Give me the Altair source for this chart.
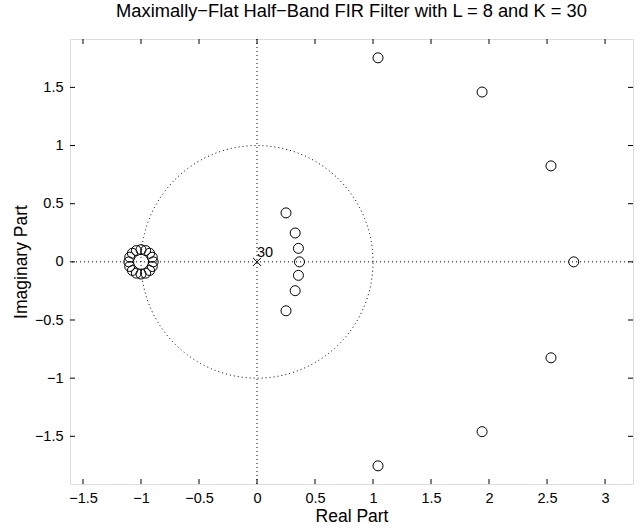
import altair as alt
import pandas as pd
import numpy as np

# ---- data ----
# 16 zeros clustered around z = -1 (numerical spread of the multiple zero)
cluster_re = [-0.895, -0.903, -0.926, -0.960, -1.000, -1.040, -1.074, -1.097,
              -1.105, -1.097, -1.074, -1.040, -1.000, -0.960, -0.926, -0.903]
cluster_im = [0.000, 0.040, 0.074, 0.097, 0.105, 0.097, 0.074, 0.040,
              0.000, -0.040, -0.074, -0.097, -0.105, -0.097, -0.074, -0.040]
# inner zeros (inside unit circle)
inner_re = [0.250, 0.329, 0.357, 0.366, 0.357, 0.329, 0.250]
inner_im = [0.421, 0.248, 0.116, 0.000, -0.116, -0.248, -0.421]
# outer zeros (reciprocals)
outer_re = [1.043, 1.940, 2.534, 2.730, 2.534, 1.940, 1.043]
outer_im = [1.754, 1.460, 0.825, 0.000, -0.825, -1.460, -1.754]
# pole
pole_re = [0.0]
pole_im = [0.0]
pole_label = ["30"]

x_ticks = [-1.5, -1, -0.5, 0, 0.5, 1, 1.5, 2, 2.5, 3]
y_ticks = [-1.5, -1, -0.5, 0, 0.5, 1, 1.5]

X_DOM = [-1.612, 3.241]
Y_DOM = [-1.910, 1.916]
W, H = 563, 445

zeros = pd.DataFrame({
    "re": cluster_re + inner_re + outer_re,
    "im": cluster_im + inner_im + outer_im,
})
poles = pd.DataFrame({"re": pole_re, "im": pole_im, "lab": pole_label})

t = np.linspace(0, 2 * np.pi, 361)
circle = pd.DataFrame({"re": np.cos(t), "im": np.sin(t), "i": np.arange(361)})

xs = alt.Scale(domain=X_DOM, nice=False, zero=False)
ys = alt.Scale(domain=Y_DOM, nice=False, zero=False)

minus = "replace(datum.label, '-', '\u2212')"
x_axis = alt.Axis(values=x_ticks, format=".1~f", title="Real Part", grid=False,
                  domain=False, tickSize=0, labelPadding=7, labelExpr=minus,
                  titlePadding=2.5, labelFontSize=14.5, titleFontSize=17.5,
                  labelColor="black", titleColor="black", titleFontWeight="normal")
y_axis = alt.Axis(values=y_ticks, format=".1~f", title="Imaginary Part", grid=False,
                  domain=False, tickSize=0, labelPadding=7, labelExpr=minus,
                  titlePadding=4, labelFontSize=14.5, titleFontSize=17.5,
                  labelColor="black", titleColor="black", titleFontWeight="normal")

X = alt.X("re:Q", scale=xs, axis=x_axis)
Y = alt.Y("im:Q", scale=ys, axis=y_axis)

unit = alt.Chart(circle).mark_line(color="black", strokeWidth=1, strokeDash=[1, 3]).encode(
    x=X, y=Y, order="i:Q")

vline = alt.Chart(pd.DataFrame({"v": [0]})).mark_rule(
    color="black", strokeWidth=1, strokeDash=[1, 3]).encode(x=alt.X("v:Q", scale=xs))
hline = alt.Chart(pd.DataFrame({"v": [0]})).mark_rule(
    color="black", strokeWidth=1, strokeDash=[1, 3]).encode(y=alt.Y("v:Q", scale=ys))

zero_pts = alt.Chart(zeros).mark_point(
    shape="circle", filled=False, color="black", size=100, strokeWidth=1, opacity=1
).encode(x=alt.X("re:Q", scale=xs), y=alt.Y("im:Q", scale=ys))

pole_pts = alt.Chart(poles).mark_point(
    shape="M-1,-1L1,1M-1,1L1,-1", filled=False, color="black", size=64,
    strokeWidth=1, opacity=1
).encode(x=alt.X("re:Q", scale=xs), y=alt.Y("im:Q", scale=ys))

pole_txt = alt.Chart(poles).mark_text(
    align="left", baseline="middle", dx=0, dy=-9, fontSize=14.5,
    font="Liberation Sans", color="black"
).encode(x=alt.X("re:Q", scale=xs), y=alt.Y("im:Q", scale=ys), text="lab:N")

xt = pd.DataFrame({"v": x_ticks})
yt = pd.DataFrame({"v": y_ticks})
tick_b = alt.Chart(xt).mark_rule(color="black").encode(
    x=alt.X("v:Q", scale=xs), y=alt.value(H), y2=alt.value(H - 5))
tick_t = alt.Chart(xt).mark_rule(color="black").encode(
    x=alt.X("v:Q", scale=xs), y=alt.value(0), y2=alt.value(5))
tick_l = alt.Chart(yt).mark_rule(color="black").encode(
    y=alt.Y("v:Q", scale=ys), x=alt.value(0), x2=alt.value(5))
tick_r = alt.Chart(yt).mark_rule(color="black").encode(
    y=alt.Y("v:Q", scale=ys), x=alt.value(W), x2=alt.value(W - 5))

chart = alt.layer(
    unit, vline, hline, tick_b, tick_t, tick_l, tick_r, zero_pts, pole_pts, pole_txt
).properties(
    width=W, height=H,
    title=alt.Title("Maximally\u2212Flat Half\u2212Band FIR Filter with L = 8 and K = 30",
                    fontSize=18.3, fontWeight="normal", font="Liberation Sans",
                    color="black", offset=17),
    autosize=alt.AutoSizeParams(type="none"),
    padding={"left": 70, "top": 39, "right": 11, "bottom": 44},
).configure_view(stroke="black", strokeWidth=1.3).configure(
    font="Liberation Sans", background="white"
)

chart.save("out.html", embed_options={"renderer": "svg", "actions": False})
